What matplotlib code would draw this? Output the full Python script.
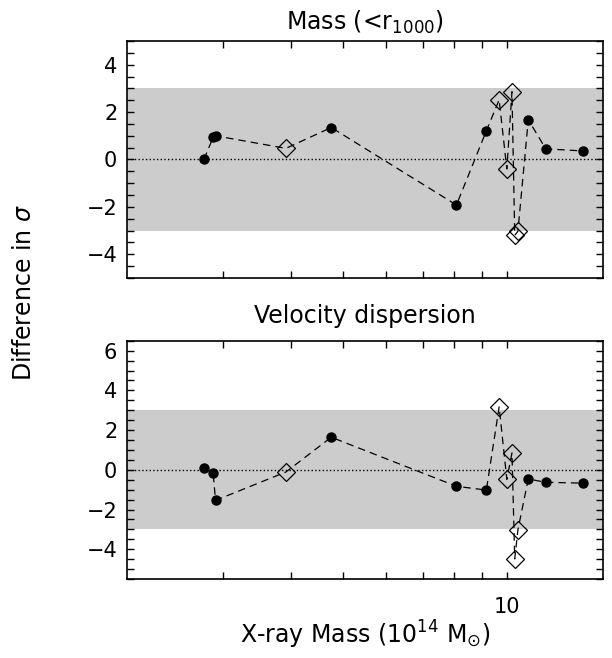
import matplotlib
matplotlib.use('Agg')
import matplotlib.pyplot as plt
from matplotlib.ticker import FixedLocator, NullFormatter, MultipleLocator, FixedFormatter

# X-ray mass of each cluster (10^14 Msun)
xray_mass = [2.77, 2.88, 2.91, 3.92, 4.75, 8.07, 9.16, 9.67, 9.99, 10.21, 10.33, 10.47, 10.94, 11.78, 13.8]
# marker type: 'o' filled circle, 'D' open diamond
kind = ['o', 'o', 'o', 'D', 'o', 'o', 'o', 'D', 'D', 'D', 'D', 'D', 'o', 'o', 'o']
diff_mass = [0.0, 0.93, 1.0, 0.47, 1.35, -1.92, 1.21, 2.52, -0.40, 2.86, -3.20, -3.03, 1.68, 0.45, 0.36]
diff_sigma = [0.11, -0.16, -1.54, -0.11, 1.64, -0.83, -1.02, 3.17, -0.48, 0.85, -4.49, -3.02, -0.46, -0.63, -0.67]

titles = ['Mass (<r$_{1000}$)', 'Velocity dispersion']
ylims = [(-5, 5), (-5.5, 6.5)]
yticks = [[-4, -2, 0, 2, 4], [-4, -2, 0, 2, 4, 6]]
title_pads = [8, 13]

plt.rcParams['font.family'] = 'DejaVu Sans'
plt.rcParams['mathtext.fontset'] = 'dejavusans'

fig = plt.figure(figsize=(6.12, 6.58), dpi=100)
ax1 = fig.add_axes([0.2075, 0.5775, 0.7775, 0.3602])
ax2 = fig.add_axes([0.2075, 0.12, 0.7775, 0.3622])

for ax, ydata, title, ylim, yt, tp in zip([ax1, ax2], [diff_mass, diff_sigma], titles, ylims, yticks, title_pads):
    ax.set_xscale('log')
    ax.set_xlim(2, 15)
    ax.set_ylim(*ylim)
    ax.axhspan(-3, 3, color='#cccccc', lw=0, zorder=0)
    ax.axhline(0, color='black', ls=':', lw=1, zorder=1)
    ax.plot(xray_mass, ydata, color='black', ls=(0, (6, 4)), lw=0.9, zorder=2)
    for xv, yv, k in zip(xray_mass, ydata, kind):
        if k == 'o':
            ax.plot(xv, yv, 'o', color='black', ms=6.5, zorder=3)
        else:
            ax.plot(xv, yv, 'D', mfc='none', mec='black', mew=0.9, ms=9, zorder=3)
    ax.set_title(title, fontsize=17, pad=tp)
    ax.xaxis.set_major_locator(FixedLocator([10]))
    ax.xaxis.set_minor_locator(FixedLocator([3, 4, 5, 6, 7, 8, 9]))
    ax.xaxis.set_minor_formatter(NullFormatter())
    ax.set_yticks(yt)
    ax.set_yticklabels(['\u2212%d' % -v if v < 0 else '%d' % v for v in yt])
    ax.yaxis.set_minor_locator(MultipleLocator(0.5))
    ax.tick_params(which='both', direction='in', top=True, right=True, length=5, width=1, labelsize=15)
    ax.tick_params(axis='y', pad=7)
    for s in ax.spines.values():
        s.set_linewidth(1.2)

ax1.xaxis.set_major_formatter(NullFormatter())
ax2.xaxis.set_major_formatter(FixedFormatter(['10']))
ax2.tick_params(axis='x', pad=13)

fig.text(0.039, 0.555, 'Difference in $\\sigma$', rotation=90, ha='center', va='center', fontsize=17)
fig.text(0.596, 0.035, 'X-ray Mass (10$^{14}$ M$_{\\odot}$)', ha='center', va='center', fontsize=17)

fig.savefig('out.png', dpi=100)
